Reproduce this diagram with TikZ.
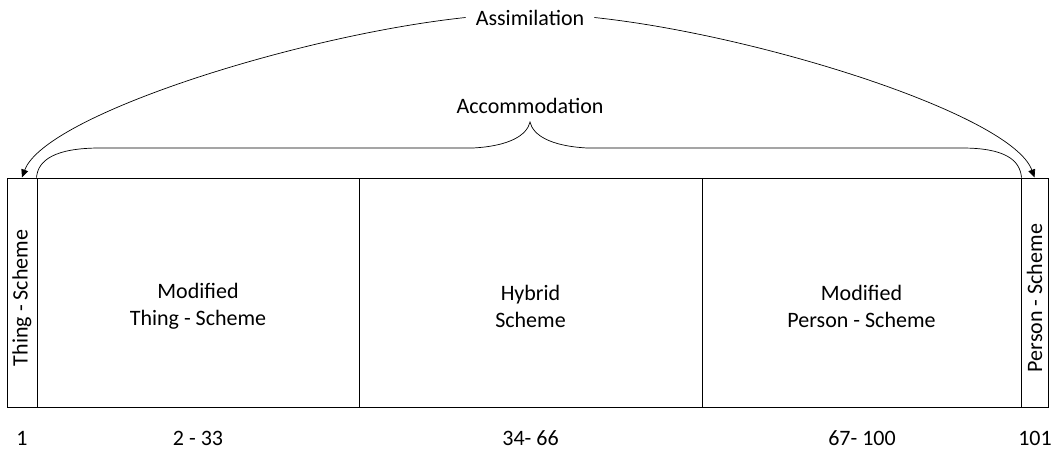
\documentclass[tikz,border=0pt]{standalone}
\usepackage{fontspec}
\setmainfont{Carlito}
\usetikzlibrary{arrows.meta}
\begin{document}
\begin{tikzpicture}[x=1pt, y=-1pt, font=\fontsize{22pt}{27pt}\selectfont,
        cell/.style={draw, line width=1pt, minimum height=229pt, inner sep=0pt},
        curveline/.style={line width=0.7pt},
        headarrow/.style={-{Triangle[length=8pt, width=7pt]}}]
    \useasboundingbox (0,0) rectangle (1061,450);
    % the five stages
    \node[cell, minimum width=30pt]  (thing)   at (22,292.5)    {};
    \node[cell, minimum width=322pt] (mthing)  at (198,292.5)   {};
    \node[cell, minimum width=343pt] (hybrid)  at (530.5,292.5) {};
    \node[cell, minimum width=319pt] (mperson) at (861.5,292.5) {};
    \node[cell, minimum width=27pt]  (person)  at (1034.5,292.5) {};

    \node[rotate=90] (thinglbl)  at (22,298)     {Thing - Scheme};
    \node[rotate=90] (personlbl) at (1034.5,298) {Person - Scheme};
    \node[align=center] (mthinglbl)  at (198,306)   {Modified\\Thing - Scheme};
    \node[align=center] (hybridlbl)  at (530.5,306) {Hybrid\\Scheme};
    \node[align=center] (mpersonlbl) at (861.5,306) {Modified\\Person - Scheme};

    % scale underneath
    \foreach \x/\t [count=\i] in {22/1, 198/2 - 33, 530.5/34- 66, 862/67- 100, 1035/101}
        \node[inner sep=1pt] (num\i) at (\x,438) {\t};

    % assimilation arrows
    \node[inner xsep=10pt] (assim) at (530,17.5) {Assimilation};
    \draw[curveline, headarrow] (assim.west) .. controls (300,35) and (45,115) .. (thing.north);
    \draw[curveline, headarrow] (assim.east) .. controls (760,35) and (1012,115) .. (person.north);

    % accommodation brace
    \node (accom) at (530,105.5) {Accommodation};
    \coordinate (brtip) at (530,122);
    \draw[curveline] (mthing.north west) .. controls (38,160) and (55,148) .. (100,148)
        -- (473,148) .. controls (510,146) and (527,135) .. (brtip)
        .. controls (533,135) and (550,146) .. (587,148)
        -- (962,148) .. controls (1005,148) and (1020,160) .. (mperson.north east);
\end{tikzpicture}
\end{document}
